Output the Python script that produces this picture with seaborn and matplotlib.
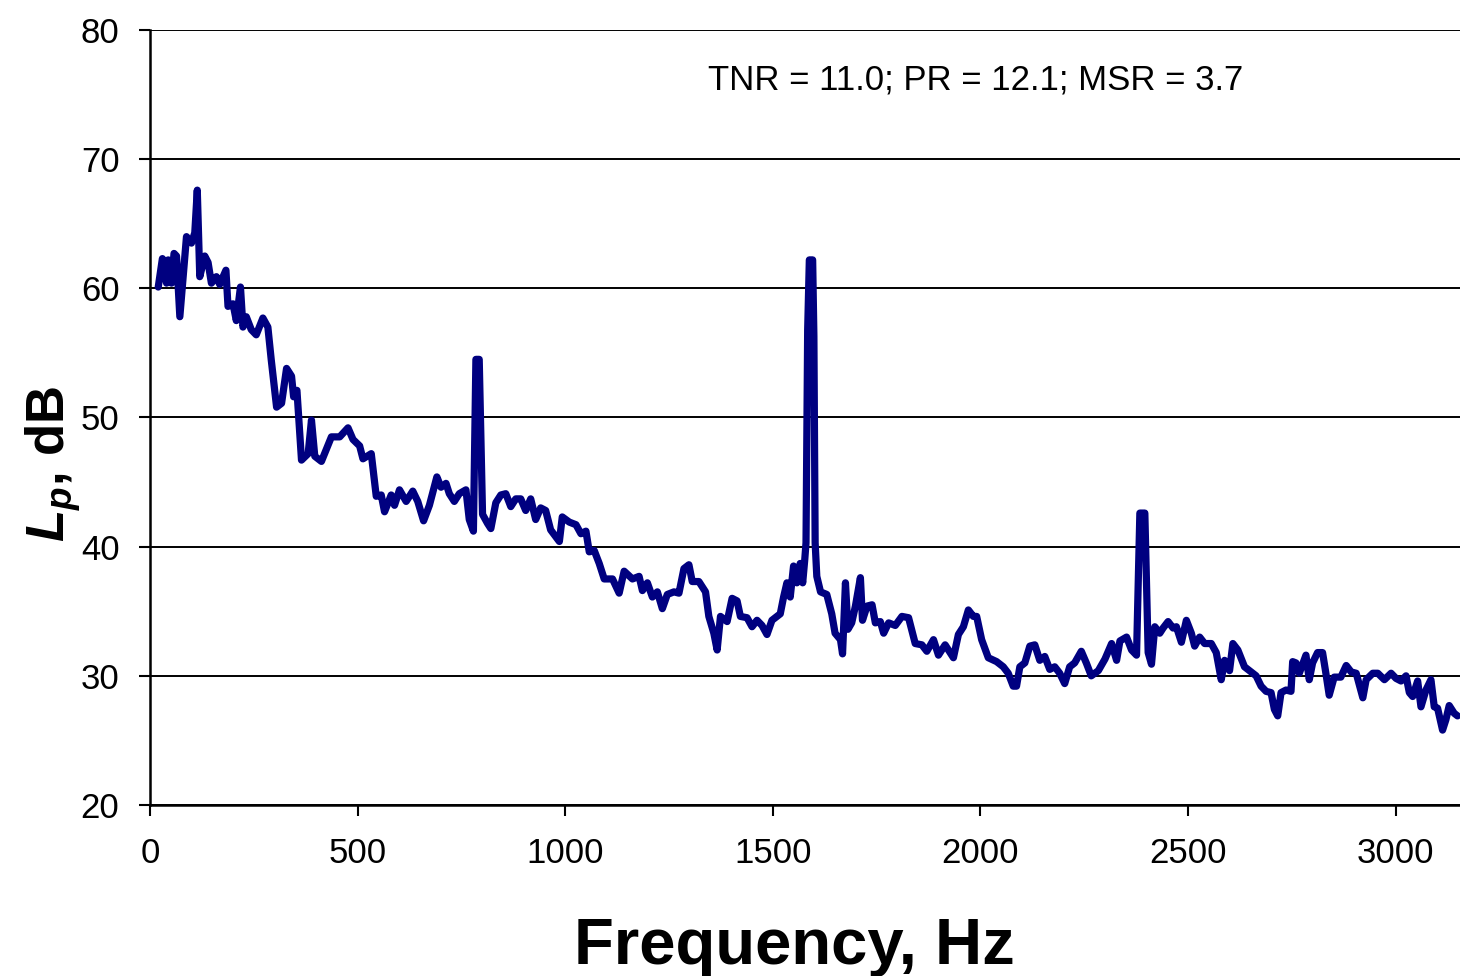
import numpy as np
import pandas as pd
import matplotlib
matplotlib.use("Agg")
import matplotlib.pyplot as plt
import seaborn as sns

# spectrum (Hz, dB)
freq_hz = [20, 30, 40, 44, 52, 58, 64, 72, 80, 88, 100, 108, 114, 120, 132, 140, 148, 160, 168, 183,
           188, 200, 208, 218, 224, 232, 244, 256, 272, 284, 292, 305, 317, 329, 341, 346, 354, 365, 381, 389,
           397, 413, 437, 457, 477, 489, 505, 513, 533, 545, 557, 565, 581, 589, 601, 617, 633, 645, 659, 673,
           691, 701, 713, 721, 733, 745, 761, 769, 779, 785, 793, 801, 813, 821, 833, 845, 857, 869, 881, 893,
           905, 917, 929, 941, 953, 965, 986, 993, 1010, 1026, 1038, 1050, 1058, 1070, 1082, 1094, 1114, 1130, 1142, 1162,
           1178, 1186, 1198, 1210, 1222, 1234, 1246, 1262, 1274, 1286, 1298, 1306, 1322, 1338, 1346, 1358, 1366, 1374, 1390, 1402,
           1414, 1422, 1438, 1450, 1462, 1474, 1486, 1498, 1518, 1526, 1534, 1542, 1550, 1558, 1566, 1572, 1577, 1580, 1584, 1588,
           1596, 1599, 1602, 1606, 1615, 1630, 1642, 1650, 1663, 1668, 1675, 1681, 1690, 1699, 1711, 1716, 1727, 1739, 1747, 1759,
           1767, 1779, 1795, 1811, 1827, 1843, 1859, 1871, 1887, 1899, 1915, 1935, 1947, 1959, 1971, 1983, 1991, 2003, 2019, 2039,
           2055, 2067, 2079, 2087, 2095, 2107, 2119, 2131, 2143, 2155, 2167, 2179, 2191, 2203, 2215, 2227, 2243, 2255, 2267, 2284,
           2300, 2316, 2328, 2336, 2352, 2364, 2376, 2384, 2396, 2404, 2412, 2420, 2432, 2440, 2452, 2464, 2472, 2484, 2496, 2508,
           2516, 2528, 2540, 2556, 2568, 2580, 2588, 2600, 2608, 2620, 2636, 2652, 2664, 2676, 2688, 2700, 2708, 2716, 2724, 2736,
           2748, 2752, 2760, 2768, 2784, 2792, 2800, 2812, 2824, 2832, 2840, 2852, 2868, 2881, 2893, 2905, 2921, 2929, 2945, 2957,
           2973, 2989, 3001, 3013, 3025, 3033, 3041, 3053, 3061, 3073, 3085, 3093, 3101, 3113, 3121, 3129, 3141, 3149]
level_db = [60.1, 62.3, 60.4, 62.2, 60.4, 62.7, 62.5, 57.8, 60.9, 64.0, 63.5, 64.3, 67.6, 60.9, 62.5, 62.0, 60.4, 60.9, 60.3, 61.4,
            58.6, 58.8, 57.5, 60.1, 57.0, 57.8, 56.8, 56.4, 57.7, 57.0, 54.5, 50.8, 51.1, 53.8, 53.2, 51.6, 52.1, 46.7, 47.2, 49.8,
            47.0, 46.6, 48.5, 48.5, 49.2, 48.3, 47.8, 46.8, 47.2, 43.9, 44.0, 42.7, 44.0, 43.2, 44.4, 43.5, 44.3, 43.5, 42.0, 43.2,
            45.4, 44.6, 44.9, 44.1, 43.5, 44.1, 44.4, 42.1, 41.2, 54.5, 54.5, 42.5, 41.8, 41.4, 43.4, 44.0, 44.1, 43.1, 43.7, 43.7,
            42.8, 43.7, 42.1, 43.0, 42.8, 41.3, 40.4, 42.3, 41.9, 41.7, 41.0, 41.2, 39.6, 39.7, 38.7, 37.5, 37.5, 36.4, 38.1, 37.5,
            37.7, 36.6, 37.2, 36.1, 36.5, 35.2, 36.3, 36.5, 36.4, 38.3, 38.6, 37.3, 37.3, 36.5, 34.6, 33.3, 32.0, 34.6, 34.2, 36.0,
            35.8, 34.6, 34.5, 33.8, 34.3, 33.9, 33.2, 34.3, 34.8, 36.1, 37.2, 36.1, 38.5, 37.2, 38.7, 37.2, 39.0, 40.3, 56.8, 62.2,
            62.2, 56.3, 40.3, 37.7, 36.5, 36.3, 34.8, 33.3, 32.8, 31.7, 37.2, 33.6, 34.1, 35.4, 37.6, 34.3, 35.4, 35.5, 34.1, 34.2,
            33.3, 34.1, 33.9, 34.6, 34.5, 32.5, 32.4, 31.9, 32.8, 31.6, 32.4, 31.4, 33.2, 33.8, 35.1, 34.6, 34.6, 32.8, 31.4, 31.1,
            30.7, 30.2, 29.2, 29.2, 30.7, 31.0, 32.3, 32.4, 31.2, 31.5, 30.5, 30.7, 30.2, 29.4, 30.7, 31.0, 31.9, 31.0, 30.0, 30.4,
            31.3, 32.5, 31.2, 32.7, 33.0, 32.0, 31.6, 42.6, 42.6, 31.8, 30.9, 33.8, 33.3, 33.7, 34.2, 33.7, 33.8, 32.6, 34.3, 33.3,
            32.3, 33.0, 32.5, 32.5, 31.8, 29.7, 31.2, 30.4, 32.5, 32.0, 30.7, 30.3, 30.0, 29.2, 28.8, 28.7, 27.4, 26.9, 28.7, 28.9,
            28.8, 31.1, 31.0, 30.2, 31.6, 29.7, 31.0, 31.8, 31.8, 30.2, 28.5, 29.9, 29.9, 30.8, 30.3, 30.2, 28.3, 29.7, 30.2, 30.2,
            29.7, 30.2, 29.8, 29.6, 30.0, 28.7, 28.4, 29.6, 27.6, 28.9, 29.7, 27.6, 27.5, 25.8, 26.6, 27.7, 27.1, 26.9]

x_ticks = [0, 500, 1000, 1500, 2000, 2500, 3000]
y_ticks = [20, 30, 40, 50, 60, 70, 80]
note = "TNR = 11.0; PR = 12.1; MSR = 3.7"

df = pd.DataFrame({"freq": freq_hz, "lp": level_db})

sns.set_style("white")
plt.rcParams["font.family"] = ["Liberation Sans", "DejaVu Sans"]
plt.rcParams["text.color"] = "black"
plt.rcParams["axes.labelcolor"] = "black"
plt.rcParams["mathtext.fontset"] = "custom"
plt.rcParams["mathtext.bfit"] = "Liberation Sans:italic:bold"
plt.rcParams["mathtext.bf"] = "Liberation Sans:bold"

fig = plt.figure(figsize=(14.6, 9.76), dpi=100)
ax = fig.add_axes([0.1027, 0.1752, 0.8973, 0.7941])

ax.yaxis.grid(True, color="black", lw=1.4)
ax.set_axisbelow(True)
sns.lineplot(data=df, x="freq", y="lp", ax=ax, color="#000080", lw=5.2, sort=False, zorder=3)

ax.set_xlim(0, 3155)
ax.set_ylim(20, 80)
ax.set_xticks(x_ticks)
ax.set_yticks(y_ticks)
ax.tick_params(axis="both", direction="out", length=8, width=1.5, color="black",
               labelsize=25, labelcolor="black")
ax.tick_params(axis="x", pad=15, bottom=True)
ax.tick_params(axis="y", pad=14, left=True)

for side in ["top", "right"]:
    ax.spines[side].set_visible(False)
for side in ["left", "bottom"]:
    ax.spines[side].set_color("black")
    ax.spines[side].set_linewidth(1.8)

ax.set_xlabel("Frequency, Hz", fontsize=47, fontweight="bold")
ax.xaxis.set_label_coords(0.492, -0.145)
ax.set_ylabel(r"$\mathbfit{L}_{\mathbfit{p}}$, dB", fontsize=38, fontweight="bold")
ax.yaxis.set_label_coords(-0.05, 0.44)

ax.text(1345, 76.1, note, fontsize=25, va="center", ha="left")

fig.savefig("out.png", dpi=100)
